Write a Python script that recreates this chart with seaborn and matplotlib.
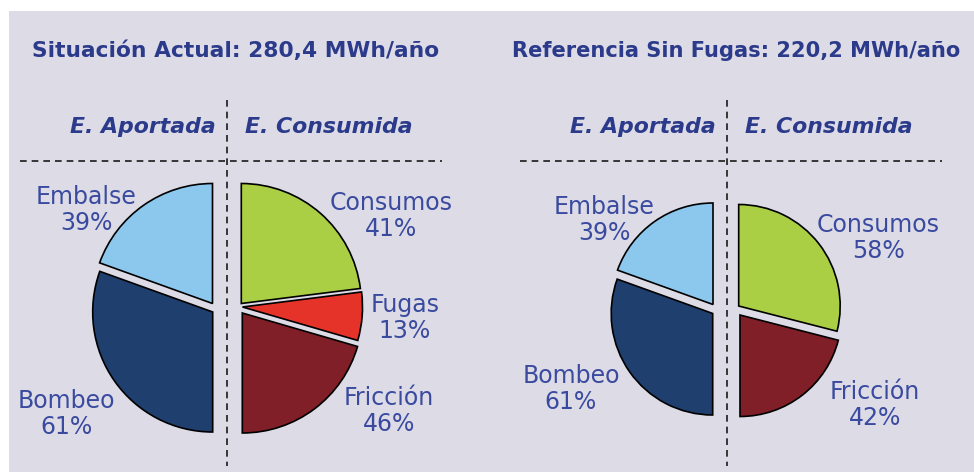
import numpy as np
import seaborn as sns
import matplotlib.pyplot as plt
from matplotlib.patches import Wedge, Rectangle

# --- data -------------------------------------------------------------
titles = ["Situación Actual: 280,4 MWh/año", "Referencia Sin Fugas: 220,2 MWh/año"]
side_headers = ["E. Aportada", "E. Consumida"]

aport_names = ["Embalse", "Bombeo"]
aport_pct_1 = [39, 61]
aport_pct_2 = [39, 61]

cons_names_1 = ["Consumos", "Fugas", "Fricción"]
# wedge sizes as drawn in the source; the printed labels swap Consumos/Fricción
cons_share_1 = [46, 13, 41]
cons_label_1 = [41, 13, 46]

cons_names_2 = ["Consumos", "Fricción"]
cons_share_2 = [58, 42]
cons_label_2 = [58, 42]

colors = {"Embalse": "#8cc8ee", "Bombeo": "#1f3f6f", "Consumos": "#aacf45",
          "Fugas": "#e63329", "Fricción": "#801f27"}

# --- style ------------------------------------------------------------
sns.set_theme(style="white")
plt.rcParams["font.family"] = ["DejaVu Sans"]

W, H = 974, 472
fig = plt.figure(figsize=(W / 100, H / 100), dpi=100)
ax = fig.add_axes([0, 0, 1, 1])
ax.set_xlim(0, W)
ax.set_ylim(0, H)
ax.axis("off")

bg = "#dcdbe6"
title_col = "#2b3a8a"
lab_col = "#3a4a9f"
ax.add_patch(Rectangle((9, 0), W - 9, H - 11, facecolor=bg, edgecolor="none", zorder=0))


def py(y):
    # pixel row (top-down) to axis y
    return H - y


def draw_half(names, shares, labels, centers, radius, left, label_pos):
    shares = np.asarray(shares, dtype=float)
    span = 180.0 * shares / shares.sum()
    edges = np.concatenate([[0], np.cumsum(span)])
    for i, name in enumerate(names):
        if left:
            t1, t2 = 90 + edges[i], 90 + edges[i + 1]
        else:
            t1, t2 = 90 - edges[i + 1], 90 - edges[i]
        cx, cy = centers[i]
        ax.add_patch(Wedge((cx, py(cy)), radius, t1, t2, facecolor=colors[name],
                           edgecolor="black", linewidth=1.2, zorder=2))
        lx, ly = label_pos[i]
        ax.text(lx, py(ly), f"{name}\n{labels[i]}%", ha="center", va="center",
                fontsize=17, color=lab_col, linespacing=1.15, zorder=3)


def draw_frame(x0, title, title_x, title_ha, title_size):
    ax.text(title_x, py(51), title, ha=title_ha, va="center", fontsize=title_size,
            fontweight="bold", color=title_col)
    ax.text(x0 - 11, py(127), side_headers[0], ha="right", va="center", fontsize=15.8,
            fontweight="bold", fontstyle="italic", color=title_col)
    ax.text(x0 + 18, py(127), side_headers[1], ha="left", va="center", fontsize=15.8,
            fontweight="bold", fontstyle="italic", color=title_col)
    ax.plot([x0 - 207, x0 + 215], [py(161), py(161)], color="#1a1a1a", lw=1.2,
            ls=(0, (4, 3)), zorder=1)
    ax.plot([x0, x0], [py(100), py(466)], color="#1a1a1a", lw=1.2,
            ls=(0, (4, 3)), zorder=1)


# panel 1
draw_frame(227, titles[0], 236, "center", 15.7)
draw_half(aport_names, aport_pct_1, aport_pct_1,
          [(212.5, 303.5), (212.7, 312)], 120, True,
          [(86, 210), (66, 414)])
draw_half(cons_names_1, cons_share_1, cons_label_1,
          [(241.3, 303.5), (242.5, 307), (242.3, 313)], 120, False,
          [(391, 216), (405, 318), (389, 411)])

# panel 2
draw_frame(727, titles[1], 512, "left", 15.1)
draw_half(aport_names, aport_pct_2, aport_pct_2,
          [(713, 304.5), (712.7, 313.5)], 101.5, True,
          [(604, 220), (571, 389)])
draw_half(cons_names_2, cons_share_2, cons_label_2,
          [(738.7, 306), (740, 315)], 101.5, False,
          [(878, 238), (875, 405)])

fig.savefig("out.png", dpi=100, facecolor="white")
